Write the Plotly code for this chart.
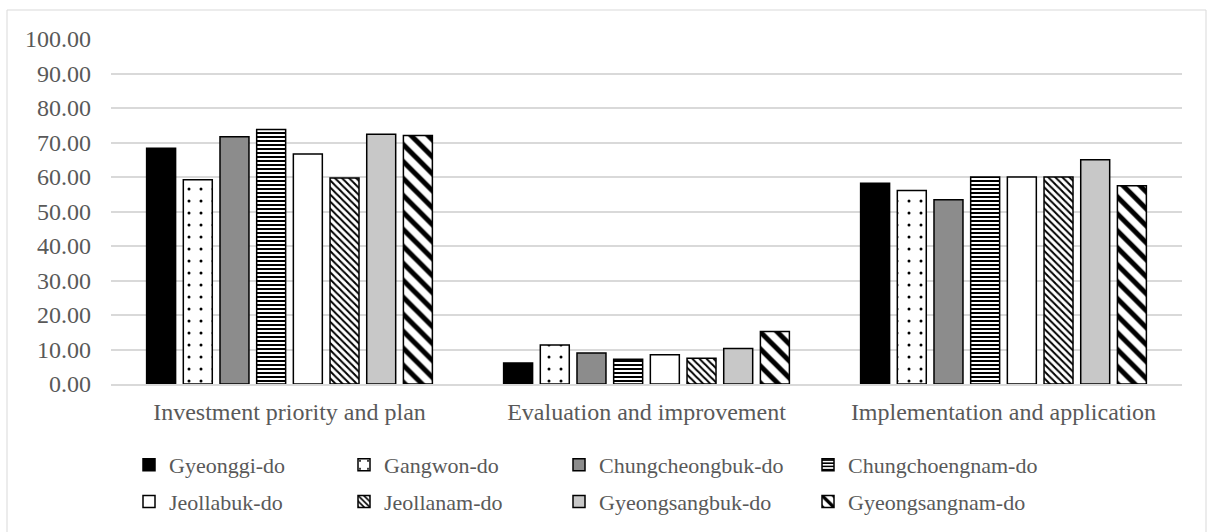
import plotly.graph_objects as go

categories = ["Investment priority and plan", "Evaluation and improvement", "Implementation and application"]

regions = ["Gyeonggi-do", "Gangwon-do", "Chungcheongbuk-do", "Chungchoengnam-do",
           "Jeollabuk-do", "Jeollanam-do", "Gyeongsangbuk-do", "Gyeongsangnam-do"]

gyeonggi = [68.3, 6.1, 58.2]
gangwon = [59.2, 11.3, 56.1]
chungcheongbuk = [71.7, 9.0, 53.4]
chungchoengnam = [73.8, 7.2, 60.0]
jeollabuk = [66.7, 8.5, 60.0]
jeollanam = [59.7, 7.5, 60.0]
gyeongsangbuk = [72.4, 10.3, 65.0]
gyeongsangnam = [72.0, 15.2, 57.5]

series = [gyeonggi, gangwon, chungcheongbuk, chungchoengnam,
          jeollabuk, jeollanam, gyeongsangbuk, gyeongsangnam]

y_ticks = [0, 10, 20, 30, 40, 50, 60, 70, 80, 90, 100]

# fill style per region: (background colour, pattern shape, pattern size, solidity)
styles = [
    ("#000000", "", 8, 0.3),
    ("#ffffff", ".", 12, 0.05),
    ("#8c8c8c", "", 8, 0.3),
    ("#ffffff", "-", 4, 0.5),
    ("#ffffff", "", 8, 0.3),
    ("#ffffff", "\\", 5, 0.4),
    ("#c8c8c8", "", 8, 0.3),
    ("#ffffff", "\\", 12, 0.42),
]

FONT = "Liberation Serif"
TXT = "#595959"
GRID = "#d9d9d9"

# plot area in pixels
L, R, T, B = 111, 1182, 39, 384
W, H = R - L, B - T


def px_x(x):
    return (x - L) / W


def px_y(y):
    return (B - y) / H


# legend columns (left edge of each column, in pixels)
legend_cols = [129, 344, 559, 808]

fig = go.Figure()
for i, (name, vals) in enumerate(zip(regions, series)):
    bg, shape, size, sol = styles[i]
    col = i % 4
    legend_id = "legend" if col == 0 else f"legend{col + 1}"
    fig.add_trace(go.Bar(
        x=categories, y=vals, name=name,
        legend=legend_id, legendgroup=name,
        marker=dict(
            color=bg,
            line=dict(color="#000000", width=1.5),
            pattern=dict(shape=shape, fgcolor="#000000", bgcolor=bg,
                         size=size, solidity=sol, fillmode="replace"),
        ),
    ))

layout_legends = {}
for c, lx in enumerate(legend_cols):
    key = "legend" if c == 0 else f"legend{c + 1}"
    layout_legends[key] = dict(
        x=px_x(lx), y=px_y(444),
        orientation="v", yanchor="top", xanchor="left",
        font=dict(family=FONT, size=22, color=TXT),
        bgcolor="rgba(0,0,0,0)", tracegroupgap=5, itemwidth=30,
        traceorder="grouped",
    )

fig.update_layout(
    width=1207, height=532,
    margin=dict(l=L, r=1207 - R, t=T, b=532 - B, autoexpand=False),
    paper_bgcolor="#ffffff", plot_bgcolor="#ffffff",
    font=dict(family=FONT, size=22, color=TXT),
    barmode="group", bargap=0.178, bargroupgap=0.21,
    showlegend=True,
    **layout_legends,
)

fig.update_yaxes(
    range=[0, 100], tickvals=y_ticks, tickformat=".2f",
    showgrid=True, gridcolor=GRID, gridwidth=1.5,
    zeroline=False, showline=False, ticks="",
    ticklabelstandoff=19,
    tickfont=dict(family=FONT, size=24, color=TXT),
)
fig.update_xaxes(
    showgrid=False, showline=True, linecolor=GRID, linewidth=1.5,
    ticks="", ticklabelstandoff=5,
    tickfont=dict(family=FONT, size=24, color=TXT),
)

# outer chart frame
fig.add_shape(
    type="rect", xref="paper", yref="paper",
    x0=px_x(7), x1=px_x(1206), y0=px_y(560), y1=px_y(10),
    line=dict(color=GRID, width=1), fillcolor="rgba(0,0,0,0)", layer="below",
)

fig.write_html("out.html")
